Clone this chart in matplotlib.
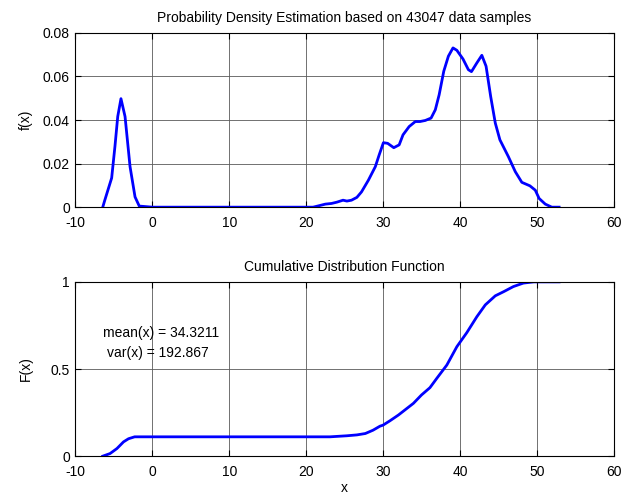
import matplotlib
matplotlib.use("Agg")
import matplotlib.pyplot as plt
from matplotlib.ticker import FuncFormatter

plt.rcParams["font.family"] = ["Liberation Sans", "DejaVu Sans"]
plt.rcParams["font.size"] = 10
plt.rcParams["axes.unicode_minus"] = False

# ── PDF estimate ──
pdf_x = [-6.45, -6.2, -5.29, -4.86, -4.5, -4.08, -3.55, -2.9, -2.25, -1.7,
         0.0, 10.0, 20.0, 20.9, 21.6, 22.5, 23.3, 24.0, 24.8, 25.3, 25.9,
         26.6, 27.2, 28.1, 29.0, 29.5, 30.05, 30.6, 31.4, 32.1, 32.6, 33.4,
         34.2, 34.8, 35.5, 36.25, 36.8, 37.3, 37.9, 38.5, 39.1, 39.6, 40.4,
         41.1, 41.5, 42.2, 42.85, 43.4, 44.0, 44.6, 45.2, 46.3, 47.2, 48.05,
         49.1, 49.8, 50.3, 51.1, 51.95, 52.9]
pdf_y = [0.0, 0.003, 0.0134, 0.028, 0.0416, 0.0498, 0.0416, 0.0186, 0.0047,
         0.0005, 0.0, 0.0, 0.0, 0.0, 0.0006, 0.0014, 0.0017, 0.0023, 0.0032,
         0.0028, 0.0032, 0.0045, 0.007, 0.0124, 0.0186, 0.024, 0.0296,
         0.0293, 0.0273, 0.0286, 0.0332, 0.037, 0.0393, 0.0393, 0.0398,
         0.0409, 0.0447, 0.0516, 0.0624, 0.0693, 0.0731, 0.072, 0.068,
         0.0631, 0.0622, 0.0662, 0.0697, 0.0647, 0.0508, 0.0386, 0.0309,
         0.0232, 0.0163, 0.0114, 0.0098, 0.0078, 0.004, 0.0014, 0.0, 0.0]

# ── CDF ──
cdf_x = [-6.45, -5.5, -4.6, -3.75, -3.1, -2.3, 0.0, 10.0, 20.0, 23.1, 25.3,
         26.6, 27.7, 28.7, 29.6, 30.0, 30.9, 32.0, 33.95, 35.0, 36.1, 37.0,
         38.3, 39.6, 40.9, 42.2, 43.3, 44.6, 45.7, 46.95, 48.25, 49.6, 52.9]
cdf_y = [0.0, 0.015, 0.044, 0.082, 0.10, 0.111, 0.111, 0.111, 0.111, 0.111,
         0.117, 0.122, 0.130, 0.149, 0.172, 0.178, 0.203, 0.236, 0.303,
         0.351, 0.393, 0.447, 0.523, 0.628, 0.709, 0.80, 0.868, 0.92, 0.944,
         0.973, 0.993, 1.0, 1.0]

n_samples = 43047
mean_x = 34.3211
var_x = 192.867

x_ticks = [-10, 0, 10, 20, 30, 40, 50, 60]
pdf_ticks = [0, 0.02, 0.04, 0.06, 0.08]
cdf_ticks = [0, 0.5, 1]

LINE = "#0000ff"
GRID = "#5a5a5a"


def _style(ax):
    ax.grid(True, color=GRID, linewidth=0.6)
    ax.set_axisbelow(True)
    ax.tick_params(direction="in", length=4, top=True, right=True,
                   labelsize=10)
    ax.tick_params(axis="x", pad=6)
    ax.tick_params(axis="y", pad=4)
    for spine in ax.spines.values():
        spine.set_color("black")
        spine.set_linewidth(0.8)
    ax.yaxis.set_major_formatter(FuncFormatter(lambda v, p: f"{v:g}"))
    ax.set_xlim(-10, 60)
    ax.set_xticks(x_ticks)
    ax.yaxis.set_label_coords(-0.08, 0.5)


fig = plt.figure(figsize=(6.34, 4.98), dpi=100)
fig.patch.set_facecolor("white")

ax1 = fig.add_axes([0.119, 0.584, 0.849, 0.350])
ax1.plot(pdf_x, pdf_y, color=LINE, linewidth=2)
_style(ax1)
ax1.set_ylim(0, 0.08)
ax1.set_yticks(pdf_ticks)
ax1.set_ylabel("f(x)")
ax1.set_title(f"Probability Density Estimation based on {n_samples} data samples",
              fontsize=10, pad=8)

ax2 = fig.add_axes([0.119, 0.084, 0.849, 0.350])
ax2.plot(cdf_x, cdf_y, color=LINE, linewidth=2)
_style(ax2)
ax2.set_ylim(0, 1)
ax2.set_yticks(cdf_ticks)
ax2.set_ylabel("F(x)")
ax2.set_xlabel("x", labelpad=2)
ax2.set_title("Cumulative Distribution Function", fontsize=10, pad=8)
ax2.text(-6.45, 0.707, f"mean(x) = {mean_x}", ha="left", va="center", fontsize=10)
ax2.text(-5.9, 0.59, f"var(x) = {var_x}", ha="left", va="center", fontsize=10)

fig.savefig("out.png", dpi=100, facecolor=fig.get_facecolor())
